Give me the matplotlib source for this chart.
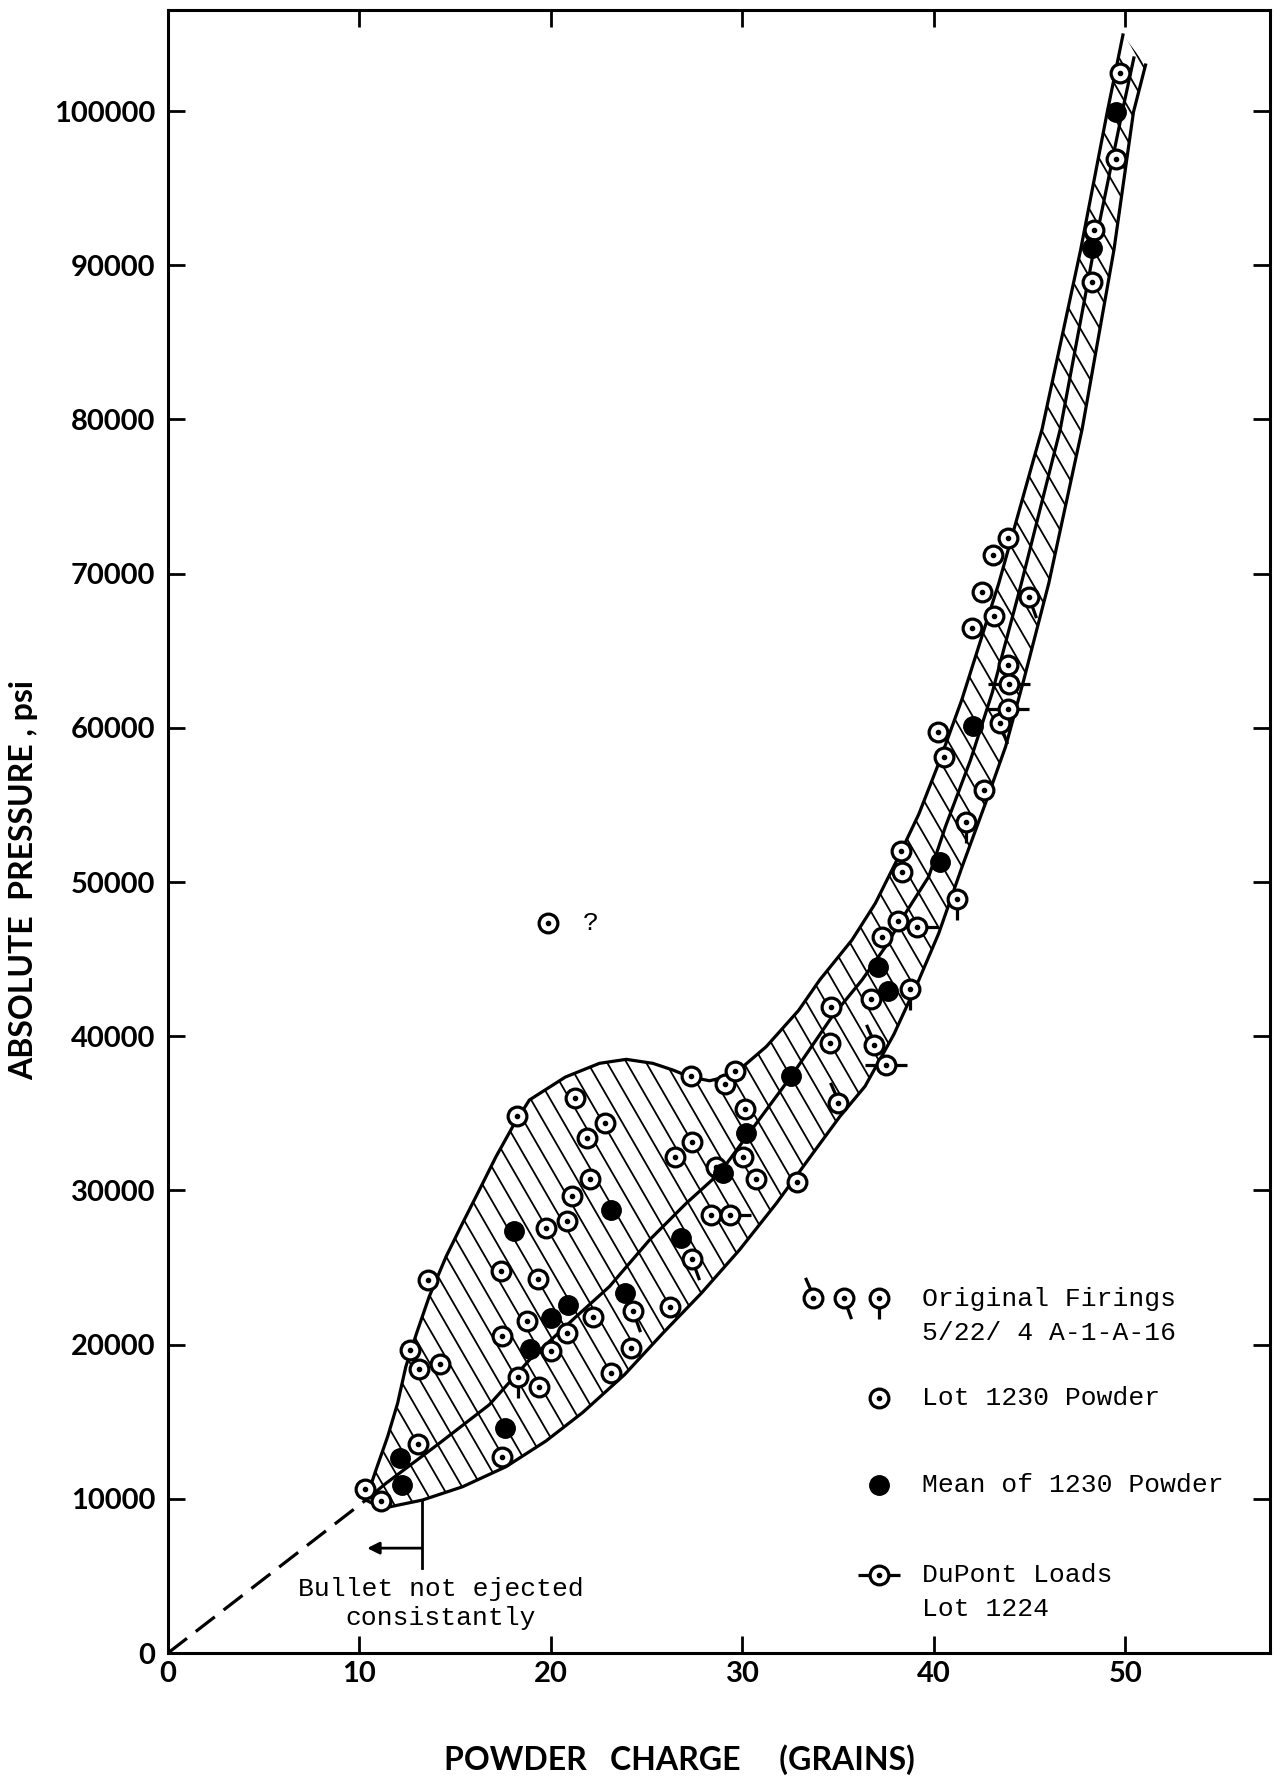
import numpy as np
import matplotlib
matplotlib.use("Agg")
import matplotlib.pyplot as plt
from matplotlib.path import Path
from matplotlib.patches import Polygon
from matplotlib.collections import LineCollection

# ---------------- data (powder charge in grains, absolute pressure in psi) -------------
# Lot 1230 powder, individual firings
lot_x = [49.71, 49.49, 48.37, 48.23,
         43.87, 43.06, 42.51, 43.13, 42.01,
         40.21, 40.51, 42.60, 38.30, 38.35, 38.12, 37.31, 36.73, 34.64, 34.59,
         27.31, 29.10, 29.63, 30.11, 27.38, 26.48, 30.05, 28.62, 30.70, 32.83,
         28.38, 26.19,
         18.23, 21.26, 21.86, 22.80, 22.03, 21.08, 19.72, 20.85, 17.40, 19.30,
         18.77, 22.21, 17.46, 20.85, 20.02, 24.17, 19.36, 23.16, 17.46,
         13.60, 12.66, 13.13, 14.20, 13.07, 10.28, 11.11,
         19.84]
lot_y = [102460, 96870, 92280, 88930,
         72290, 71200, 68830, 67250, 66450,
         59750, 58130, 55970, 52010, 50670, 47490, 46460, 42400, 41920, 39580,
         37390, 36870, 37760, 35250, 33120, 32160, 32160, 31500, 30760, 30540,
         28400, 22440,
         34810, 35990, 33410, 34370, 30760, 29660, 27590, 28030, 24800, 24280,
         21560, 21780, 20530, 20750, 19570, 19790, 17280, 18170, 12720,
         24210, 19640, 18390, 18760, 13530, 10650, 9840,
         47330]

# Mean of 1230 powder
mean_x = [49.49, 48.28, 42.04, 40.34, 37.08, 37.60, 32.54, 30.16, 28.98, 26.78,
          23.16, 18.06, 23.87, 20.90, 20.02, 18.89, 17.58, 12.12, 12.24]
mean_y = [99950, 91100, 60120, 51320, 44520, 42900, 37390, 33710, 31130, 26930,
          28700, 27370, 23330, 22590, 21710, 19710, 14560, 12650, 10880]

# Original firings 5/22/4 A-1-A-16 (three tail styles)
orig_ul_x = [36.85, 34.99]
orig_ul_y = [39430, 35650]
orig_dr_x = [44.97, 43.87, 43.44, 27.38, 24.29]
orig_dr_y = [68500, 64070, 60330, 25530, 22150]
orig_dn_x = [41.65, 41.18, 38.77, 18.29]
orig_dn_y = [53910, 48880, 43050, 17870]

# DuPont loads, lot 1224
dup_x = [43.93, 43.87, 39.12, 37.48, 29.33]
dup_y = [62820, 61200, 47070, 38130, 28400]

# Band boundaries and mean curve, as drawn on the chart
upper_x = [10.33, 10.86, 11.47, 11.99, 12.42, 12.98, 13.64, 14.52, 15.38, 16.26,
           17.13, 18.00, 18.87, 20.75, 22.53, 23.93, 25.32, 26.36, 27.23, 28.28,
           29.15, 30.02, 31.24, 32.93, 34.03, 35.72, 36.94, 38.07, 39.21, 40.25,
           41.45, 43.39, 45.65, 47.66, 49.05, 49.87]
upper_y = [9920, 11870, 14030, 16190, 18570, 20730, 23110, 25700, 27870, 30030,
           32190, 34130, 35860, 37350, 38240, 38500, 38240, 37810, 37370, 37110,
           37370, 38020, 39320, 41670, 43640, 46240, 48620, 51430, 54400, 57700,
           61800, 69390, 79380, 90990, 99930, 104930]

lower_x = [10.33, 11.20, 13.29, 15.38, 17.65, 19.74, 21.66, 23.84, 25.85, 27.85,
           29.85, 31.77, 33.68, 35.08, 36.40, 37.90, 39.21, 40.25, 41.47, 42.69,
           43.74, 44.69, 46.00, 47.74, 49.40, 50.42, 51.05]
lower_y = [9920, 9380, 9920, 10780, 12080, 13750, 15600, 18050, 20750, 23330,
           26150, 29160, 32410, 34780, 36750, 40100, 43640, 46670, 50990, 55100,
           58770, 63100, 69390, 79380, 90990, 99930, 102980]

midl_x = [10.33, 11.38, 14.17, 16.78, 18.87, 21.31, 23.05, 25.14, 27.06, 28.80,
          30.16, 32.54, 34.68, 36.24, 37.47, 38.51, 39.73, 40.60, 41.91, 43.04,
          44.57, 46.60, 48.35, 49.83, 50.44]
midl_y = [9920, 11000, 13600, 16100, 19000, 21810, 23760, 26780, 29160, 31110,
          33400, 37390, 41270, 43640, 45800, 47970, 50350, 53590, 57910, 62260,
          69390, 79380, 90990, 99930, 103440]

dash_x = [0.0, 10.33]
dash_y = [0, 9920]

x_ticks = [0, 10, 20, 30, 40, 50]
y_ticks = [0, 10000, 20000, 30000, 40000, 50000, 60000, 70000, 80000, 90000, 100000]

# ---------------- figure ----------------
W, H = 1274, 1780
fig = plt.figure(figsize=(W / 100, H / 100), dpi=100)
AX_L, AX_R, AX_T, AX_B = 168, 1270, 10, 1653
ax = fig.add_axes([AX_L / W, (H - AX_B) / H, (AX_R - AX_L) / W, (AX_B - AX_T) / H])
XMAX, YMAX = 57.55, 106550
ax.set_xlim(0, XMAX)
ax.set_ylim(0, YMAX)

for s in ax.spines.values():
    s.set_linewidth(2.2)

tickfont = dict(family="Lato", weight="bold", size=21)
ax.set_xticks(x_ticks)
ax.set_yticks(y_ticks)
ax.set_xticklabels([str(v) for v in x_ticks], **tickfont)
ax.set_yticklabels([str(v) for v in y_ticks], **tickfont)
ax.tick_params(axis="both", direction="in", length=12, width=2.0,
               top=True, right=True)
ax.tick_params(axis="x", pad=6)
ax.tick_params(axis="y", pad=9)
for t in (ax.xaxis.get_major_ticks()[0], ax.yaxis.get_major_ticks()[0]):
    t.tick1line.set_visible(False)
    t.tick2line.set_visible(False)

# ---------------- hatched band ----------------
band = np.column_stack([np.concatenate([upper_x, lower_x[::-1]]),
                        np.concatenate([upper_y, lower_y[::-1]])])
poly = Polygon(band, closed=True, fill=False, edgecolor="none")
ax.add_patch(poly)
axw_px, axh_px = AX_R - AX_L, AX_B - AX_T
sx, sy = axw_px / XMAX, axh_px / YMAX
theta = np.deg2rad(60)
shift = axh_px / np.tan(theta)
segs = [[(X / sx, 0), ((X - shift) / sx, YMAX)]
        for X in np.arange(0, axw_px + shift, 19.5)]
lc = LineCollection(segs, colors="black", linewidths=1.3, zorder=2)
ax.add_collection(lc)
lc.set_clip_path(poly)

LW = 2.3
ax.plot(upper_x, upper_y, color="black", lw=LW, zorder=3, solid_joinstyle="round")
ax.plot(lower_x, lower_y, color="black", lw=LW, zorder=3, solid_joinstyle="round")
ax.plot(midl_x, midl_y, color="black", lw=LW, zorder=3, solid_joinstyle="round")
ax.plot(dash_x, dash_y, color="black", lw=LW, dashes=(7.5, 3.5), zorder=3)

# ---------------- markers ----------------
MS = 13.5
MEW = 2.3
R = 2.2
tail_ul = Path([(-0.3, 0.95), (-0.85, R)], [Path.MOVETO, Path.LINETO])
tail_dr = Path([(0.3, -0.95), (0.75, -R)], [Path.MOVETO, Path.LINETO])
tail_dn = Path([(0.0, -1.0), (0.0, -R)], [Path.MOVETO, Path.LINETO])
bars = Path([(-R, 0), (-1.0, 0), (1.0, 0), (R, 0)],
            [Path.MOVETO, Path.LINETO, Path.MOVETO, Path.LINETO])


def open_ring(x, y, **kw):
    ax.plot(x, y, ls="none", marker="o", ms=MS, mfc="white", mec="black",
            mew=MEW, zorder=6, **kw)
    ax.plot(x, y, ls="none", marker="o", ms=3.0, color="black", zorder=7, **kw)


def tail(x, y, path, **kw):
    ax.plot(x, y, ls="none", marker=path, ms=MS * R, mfc="none", mec="black",
            mew=MEW, zorder=5, **kw)


open_ring(lot_x, lot_y)
for xs, ys, p in [(orig_ul_x, orig_ul_y, tail_ul), (orig_dr_x, orig_dr_y, tail_dr),
                  (orig_dn_x, orig_dn_y, tail_dn), (dup_x, dup_y, bars)]:
    tail(xs, ys, p)
    open_ring(xs, ys)
ax.plot(mean_x, mean_y, ls="none", marker="o", ms=MS + 0.5, color="black", zorder=6)

# ---------------- annotations ----------------
tw = dict(family="Liberation Mono", size=19, color="black")
ax.text(22.09, 47330, "?", ha="center", va="center", **tw)

ax.plot([13.26, 13.26], [9850, 5500], color="black", lw=2.0, zorder=3)
ax.annotate("", xy=(10.4, 6800), xytext=(13.26, 6800),
            arrowprops=dict(arrowstyle="-|>", color="black", lw=2.0,
                            mutation_scale=18, shrinkA=0, shrinkB=0))
ax.text(14.26, 3200, "Bullet not ejected\nconsistantly", ha="center", va="center",
        linespacing=1.25, **tw)

# ---------------- key ----------------
T = ax.transAxes
kx = [0.585, 0.613, 0.645]
ky = [0.216, 0.155, 0.102, 0.0475]
for xk, p in zip(kx, [tail_ul, tail_dr, tail_dn]):
    ax.plot([xk], [ky[0]], ls="none", marker=p, ms=MS * R, mfc="none", mec="black",
            mew=MEW, transform=T, zorder=5)
    ax.plot([xk], [ky[0]], ls="none", marker="o", ms=MS, mfc="white", mec="black",
            mew=MEW, transform=T, zorder=6)
    ax.plot([xk], [ky[0]], ls="none", marker="o", ms=3.0, color="black",
            transform=T, zorder=7)
ax.plot([kx[2]], [ky[1]], ls="none", marker="o", ms=MS, mfc="white", mec="black",
        mew=MEW, transform=T, zorder=6)
ax.plot([kx[2]], [ky[1]], ls="none", marker="o", ms=3.0, color="black", transform=T, zorder=7)
ax.plot([kx[2]], [ky[2]], ls="none", marker="o", ms=MS + 0.5, color="black", transform=T, zorder=6)
ax.plot([kx[2]], [ky[3]], ls="none", marker=bars, ms=MS * R, mfc="none", mec="black",
        mew=MEW, transform=T, zorder=5)
ax.plot([kx[2]], [ky[3]], ls="none", marker="o", ms=MS, mfc="white", mec="black",
        mew=MEW, transform=T, zorder=6)
ax.plot([kx[2]], [ky[3]], ls="none", marker="o", ms=3.0, color="black", transform=T, zorder=7)

tx = 0.684
ax.text(tx, 0.2155, "Original Firings", transform=T, ha="left", va="center", **tw)
ax.text(tx, 0.195, "5/22/ 4 A-1-A-16", transform=T, ha="left", va="center", **tw)
ax.text(tx, ky[1], "Lot 1230 Powder", transform=T, ha="left", va="center", **tw)
ax.text(tx, ky[2], "Mean of 1230 Powder", transform=T, ha="left", va="center", **tw)
ax.text(tx, ky[3], "DuPont Loads", transform=T, ha="left", va="center", **tw)
ax.text(tx, 0.027, "Lot 1224", transform=T, ha="left", va="center", **tw)

# ---------------- axis titles ----------------
lab = dict(family="Lato", weight="bold", size=23, color="black")
fig.text(24 / W, (H - 880) / H, "ABSOLUTE  PRESSURE , psi", rotation=90,
         ha="center", va="center", **lab)
fig.text(679 / W, (H - 1760) / H, "POWDER   CHARGE     (GRAINS)",
         ha="center", va="center", **lab)

fig.savefig("out.png", dpi=100)
